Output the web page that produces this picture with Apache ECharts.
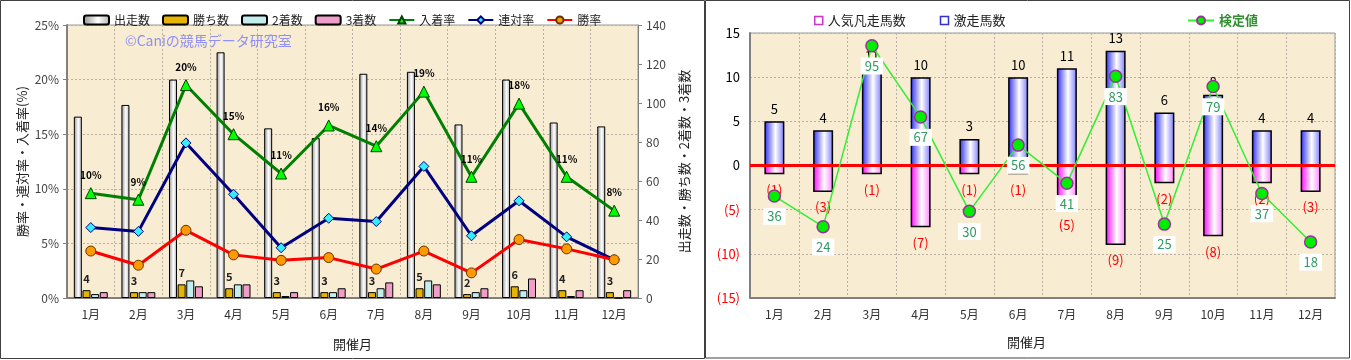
<!DOCTYPE html>
<html><head><meta charset="utf-8">
<script src="https://cdn.jsdelivr.net/npm/echarts@6/dist/echarts.min.js"></script>
<style>html,body{margin:0;padding:0;background:#fff}#c{width:1351px;height:360px}</style>
</head><body><div id="c"></div>
<script>
// ---- data: left chart ----
const months = ['1月','2月','3月','4月','5月','6月','7月','8月','9月','10月','11月','12月'];
const starters = [93, 99, 112, 126, 87, 82, 115, 116, 89, 112, 90, 88];
const wins = [4, 3, 7, 5, 3, 3, 3, 5, 2, 6, 4, 3];
const seconds = [2, 3, 9, 7, 1, 3, 5, 9, 3, 4, 1, 0];
const thirds = [3, 3, 6, 7, 3, 5, 8, 7, 5, 10, 4, 4];
const placeRate = [9.6, 9.0, 19.5, 15.0, 11.4, 15.8, 13.9, 18.9, 11.1, 17.8, 11.1, 8.0];
const quinellaRate = [6.45, 6.1, 14.2, 9.5, 4.6, 7.3, 7.0, 12.05, 5.7, 8.9, 5.6, 3.5];
const winRate = [4.3, 3.0, 6.2, 3.95, 3.45, 3.7, 2.65, 4.3, 2.3, 5.35, 4.5, 3.5];
const leftTicksPct = [0, 5, 10, 15, 20, 25];
const rightTicksCount = [0, 20, 40, 60, 80, 100, 120, 140];
// ---- data: right chart ----
const surgeCount = [5, 4, 11, 10, 3, 10, 11, 13, 6, 8, 4, 4];
const flopCount = [-1, -3, -1, -7, -1, -1, -5, -9, -2, -8, -2, -3];
const testValue = [36, 24, 95, 67, 30, 56, 41, 83, 25, 79, 37, 18];
const rightTicks = [-15, -10, -5, 0, 5, 10, 15];

const FONT = "'Noto Sans CJK JP', 'Noto Sans', sans-serif";
const PLOT_BG = '#F8ECD2';
const SPLIT = {show: true, lineStyle: {color: '#b8b0a0', type: [2, 2], width: 1}};
const hGrad = (a, b, c) => ({type: 'linear', x: 0, y: 0, x2: 1, y2: 0,
  colorStops: [{offset: 0, color: a}, {offset: 0.55, color: b}, {offset: 1, color: c}]});

const chart = echarts.init(document.getElementById('c'));
const option = {
  animation: false,
  textStyle: {fontFamily: FONT},
  graphic: [
    {type: 'rect', shape: {x: 0.5, y: 0.5, width: 704, height: 358}, style: {fill: 'none', stroke: '#404040', lineWidth: 1}, z: 100},
    {type: 'rect', shape: {x: 705.5, y: 0.5, width: 644, height: 357.5}, style: {fill: 'none', stroke: '#404040', lineWidth: 1}, z: 100},
    {type: 'text', left: 125, top: 34, style: {text: '©Caniの競馬データ研究室', fill: '#8f8ff5', font: '14px ' + FONT}, z: 100}
  ],
  legend: [
    {left: 78, top: 9, itemWidth: 25, itemHeight: 9, itemGap: 12,
     textStyle: {fontSize: 12, color: '#222'},
     data: ['出走数', '勝ち数', '2着数', '3着数', '入着率', '連対率', '勝率']},
    {left: 809, top: 9, itemWidth: 8, itemHeight: 8, itemGap: 34,
     textStyle: {fontSize: 13, color: '#222'},
     data: [{name: '人気凡走馬数', icon: 'rect', itemStyle: {color: '#fff', borderColor: '#cc33cc', borderWidth: 1.5}},
            {name: '激走馬数', icon: 'rect', itemStyle: {color: '#fff', borderColor: '#3333cc', borderWidth: 1.5}}]},
    {left: 1182, top: 9, itemWidth: 26, itemHeight: 10,
     textStyle: {fontSize: 13, color: '#2f8f2f', fontWeight: 'bold'},
     data: ['検定値']}
  ],
  grid: [
    {left: 67, top: 25, width: 571, height: 273, show: true, backgroundColor: PLOT_BG, borderColor: '#999', borderWidth: 1},
    {left: 750, top: 33, width: 585, height: 265, show: true, backgroundColor: PLOT_BG, borderColor: '#999', borderWidth: 1}
  ],
  xAxis: [
    {type: 'category', gridIndex: 0, data: months, boundaryGap: true,
     name: '開催月', nameLocation: 'middle', nameGap: 40, nameTextStyle: {fontSize: 13, color: '#222'},
     axisLine: {lineStyle: {color: '#808080', width: 2}}, axisTick: {show: false},
     axisLabel: {fontSize: 12, color: '#333', margin: 10}, splitLine: SPLIT},
    {type: 'category', gridIndex: 1, data: months, boundaryGap: true,
     name: '開催月', nameLocation: 'start', nameGap: -296, nameTextStyle: {fontSize: 13, color: '#222', padding: [38, 0, 0, 0], verticalAlign: 'top'},
     axisLine: {onZero: false, lineStyle: {color: '#808080', width: 2}}, axisTick: {show: false},
     axisLabel: {fontSize: 12, color: '#333', margin: 10}, splitLine: SPLIT}
  ],
  yAxis: [
    {type: 'value', gridIndex: 0, min: leftTicksPct[0], max: leftTicksPct[leftTicksPct.length - 1], interval: 5,
     name: '勝率・連対率・入着率(%)', nameLocation: 'middle', nameRotate: 90, nameGap: 38,
     nameTextStyle: {fontSize: 13, color: '#222'},
     axisLine: {show: true, lineStyle: {color: '#808080', width: 2}}, axisTick: {show: true, length: 4},
     axisLabel: {formatter: '{value}%', fontSize: 12, color: '#444', margin: 8}, splitLine: SPLIT},
    {type: 'value', gridIndex: 0, position: 'right', min: rightTicksCount[0], max: rightTicksCount[rightTicksCount.length - 1], interval: 20,
     name: '出走数・勝ち数・2着数・3着数', nameLocation: 'middle', nameRotate: 90, nameGap: 40,
     nameTextStyle: {fontSize: 13, color: '#222'},
     axisLine: {show: true, lineStyle: {color: '#808080', width: 1}}, axisTick: {show: true, length: 4},
     axisLabel: {fontSize: 12, color: '#444', margin: 8}, splitLine: {show: false}},
    {type: 'value', gridIndex: 1, min: rightTicks[0], max: rightTicks[rightTicks.length - 1], interval: 5,
     axisLine: {show: true, lineStyle: {color: '#808080', width: 2}}, axisTick: {show: false},
     axisLabel: {fontSize: 13, margin: 10,
       formatter: v => (Number(v) < 0 ? '(' + (-Number(v)) + ')' : String(v)),
       color: v => (Number(v) < 0 ? '#ff0000' : '#000')},
     splitLine: SPLIT},
    {type: 'value', gridIndex: 1, min: -4, max: 100, show: false, splitLine: {show: false}}
  ],
  series: [
    {name: '出走数', type: 'bar', xAxisIndex: 0, yAxisIndex: 1, data: starters, barWidth: 8, barGap: '8%',
     itemStyle: {color: hGrad('#909090', '#ffffff', '#b0b0b0'), borderColor: '#000', borderWidth: 1}},
    {name: '勝ち数', type: 'bar', xAxisIndex: 0, yAxisIndex: 1, data: wins, barWidth: 8, barGap: '8%',
     itemStyle: {color: '#e6b400', borderColor: '#000', borderWidth: 1},
     label: {show: true, position: 'top', distance: 6, fontSize: 11, fontWeight: 'bold', color: '#222'}},
    {name: '2着数', type: 'bar', xAxisIndex: 0, yAxisIndex: 1, data: seconds, barWidth: 8, barGap: '8%',
     itemStyle: {color: '#c4eeee', borderColor: '#000', borderWidth: 1}},
    {name: '3着数', type: 'bar', xAxisIndex: 0, yAxisIndex: 1, data: thirds, barWidth: 8, barGap: '8%',
     itemStyle: {color: '#ee9ec8', borderColor: '#000', borderWidth: 1}},
    {name: '入着率', type: 'line', xAxisIndex: 0, yAxisIndex: 0, data: placeRate,
     lineStyle: {color: '#008000', width: 3}, symbol: 'triangle', symbolSize: 11,
     itemStyle: {color: '#00ff00', borderColor: '#004000', borderWidth: 1},
     label: {show: true, position: 'top', distance: 7, fontSize: 10, fontWeight: 'bold', color: '#000',
             formatter: p => Math.round(p.value) + '%'}},
    {name: '連対率', type: 'line', xAxisIndex: 0, yAxisIndex: 0, data: quinellaRate,
     lineStyle: {color: '#000080', width: 3}, symbol: 'diamond', symbolSize: 10,
     itemStyle: {color: '#33eeff', borderColor: '#000080', borderWidth: 1}},
    {name: '勝率', type: 'line', xAxisIndex: 0, yAxisIndex: 0, data: winRate,
     lineStyle: {color: '#ff0000', width: 3}, symbol: 'circle', symbolSize: 10,
     itemStyle: {color: '#ff9900', borderColor: '#663300', borderWidth: 1}},

    {name: '激走馬数', type: 'bar', xAxisIndex: 1, yAxisIndex: 2, stack: 'r', data: surgeCount, barWidth: 20,
     itemStyle: {color: hGrad('#2a2aff', '#ffffff', '#7a7aff'), borderColor: '#000', borderWidth: 1.5},
     label: {show: true, position: 'top', distance: 6, fontSize: 13, color: '#000'},
     markLine: {silent: true, symbol: 'none', data: [{yAxis: 0}], label: {show: false},
                lineStyle: {color: '#ff0000', width: 3, type: 'solid'}}},
    {name: '人気凡走馬数', type: 'bar', xAxisIndex: 1, yAxisIndex: 2, stack: 'r', data: flopCount, barWidth: 20,
     itemStyle: {color: hGrad('#ff00ff', '#ffffff', '#ff80ff'), borderColor: '#000', borderWidth: 1.5},
     label: {show: true, position: 'bottom', distance: 9, fontSize: 13, color: '#ff0000',
             formatter: p => '(' + (-p.value) + ')'}},
    {name: '検定値', type: 'line', xAxisIndex: 1, yAxisIndex: 3, data: testValue,
     lineStyle: {color: '#33ee33', width: 1.5}, symbol: 'circle', symbolSize: 12,
     itemStyle: {color: '#00ee00', borderColor: '#993399', borderWidth: 1.5},
     label: {show: true, position: 'bottom', distance: 5, fontSize: 13, color: '#339966',
             backgroundColor: '#ffffff', padding: [2, 4]}, z: 5}
  ]
};
chart.setOption(option);
</script>
</body></html>
